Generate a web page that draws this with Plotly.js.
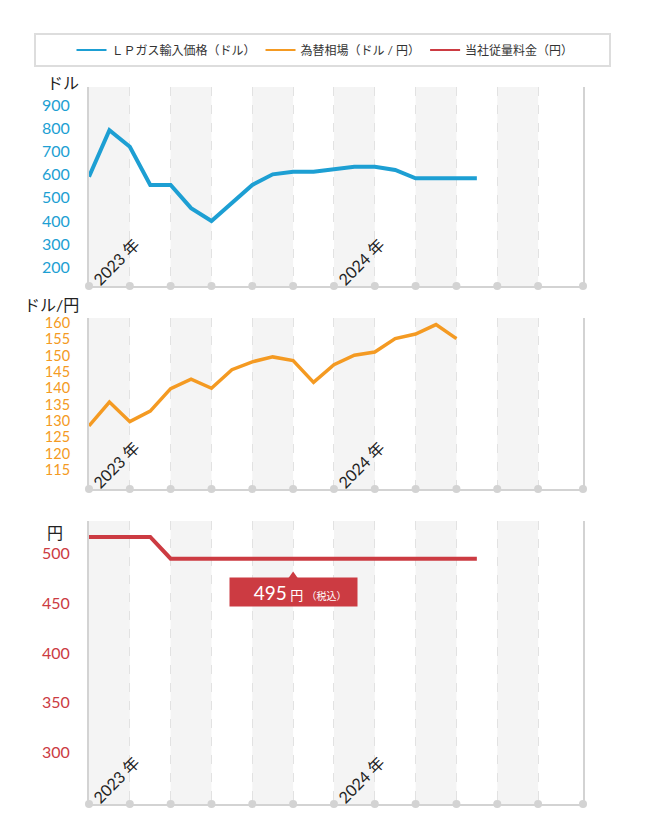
<!DOCTYPE html>
<html>
<head>
<meta charset="utf-8">
<script src="https://cdn.plot.ly/plotly-3.0.1.min.js"></script>
<style>
  body { margin: 0; background: #fff; }
</style>
</head>
<body>
<div id="chart" style="width:650px;height:830px"></div>
<script>
// monthly data, Jan 2023 -> Aug 2024
let months = ['2023/01', '2023/02', '2023/03', '2023/04', '2023/05', '2023/06', '2023/07', '2023/08', '2023/09', '2023/10',
  '2023/11', '2023/12', '2024/01', '2024/02', '2024/03', '2024/04', '2024/05', '2024/06', '2024/07', '2024/08']
let lpgPrice = [591, 792, 720, 555, 555, 455, 400, 476, 555, 601, 612, 612, 624, 634, 634, 620, 584, 584, 584, 584]
let usdJpy = [128.5, 135.8, 129.8, 133.0, 139.9, 142.8, 140.0, 145.7, 148.1, 149.6, 148.5, 141.8, 147.2, 150.1, 151.1, 155.2, 156.6, 159.5, 155.2]
let unitFee = [517, 517, 517, 517, 495, 495, 495, 495, 495, 495, 495, 495, 495, 495, 495, 495, 495, 495, 495, 495]

let lpgTicks = [200, 300, 400, 500, 600, 700, 800, 900]
let fxTicks = [115, 120, 125, 130, 135, 140, 145, 150, 155, 160]
let feeTicks = [300, 350, 400, 450, 500]

let yearLabels = ['2023 年', '2024 年']
let yearStart = [0, 12]

let seriesNames = ['ＬＰガス輸入価格（ドル）', '為替相場（ドル / 円）', '当社従量料金（円）']

const W = 650
const H = 830
const BLUE = '#1d9fd3'
const ORANGE = '#f49a22'
const RED = '#cc3b42'
const GRAY = '#d3d3d3'
const FONT = 'Lato, "Noto Sans CJK JP", sans-serif'

const xMax = 24.2
const gridTicks = Array.from({length: 12}, (v, k) => k * 2)
const dotX = gridTicks.concat([xMax])
const bandStarts = [0, 4, 8, 12, 16, 20]

let panels = [
  {top: 87, bottom: 286, range: [119, 978], ticks: lpgTicks, color: BLUE, width: 4, tickSize: 16,
    values: lpgPrice, title: 'ドル', titleX: 45, titleY: 83},
  {top: 318, bottom: 489, range: [109.2, 161.5], ticks: fxTicks, color: ORANGE, width: 3.5, tickSize: 14.5,
    values: usdJpy, title: 'ドル/円', titleX: 22, titleY: 304},
  {top: 521, bottom: 804, range: [248, 533], ticks: feeTicks, color: RED, width: 4, tickSize: 16,
    values: unitFee, title: '円', titleX: 45, titleY: 532}
]

let traces = []
let shapes = []
let annotations = []
let layout = {
  width: W,
  height: H,
  margin: {l: 0, r: 0, t: 0, b: 0},
  paper_bgcolor: '#fff',
  plot_bgcolor: '#fff',
  font: {family: FONT, color: '#222'},
  showlegend: true,
  legend: {
    orientation: 'h',
    x: 0.5, xanchor: 'center',
    y: 1 - 50 / H, yanchor: 'middle',
    font: {size: 12, color: '#333', family: FONT},
    bgcolor: 'rgba(0,0,0,0)'
  }
}

panels.forEach(function (p, i) {
  let n = i === 0 ? '' : String(i + 1)
  layout['xaxis' + n] = {
    domain: [89 / W, 583 / W],
    range: [0, xMax],
    anchor: 'y' + n,
    tickvals: gridTicks,
    showticklabels: false,
    ticks: '',
    showgrid: true,
    griddash: 'dash',
    gridcolor: '#e2e2e2',
    gridwidth: 1,
    showline: true,
    linecolor: GRAY,
    linewidth: 2,
    zeroline: false,
    fixedrange: true
  }
  layout['yaxis' + n] = {
    domain: [1 - p.bottom / H, 1 - p.top / H],
    range: p.range,
    anchor: 'x' + n,
    tickvals: p.ticks,
    ticks: 'outside',
    ticklen: 14,
    tickcolor: 'rgba(0,0,0,0)',
    tickfont: {size: p.tickSize, color: p.color, family: FONT},
    showgrid: false,
    showline: true,
    mirror: true,
    linecolor: GRAY,
    linewidth: 2,
    zeroline: false,
    fixedrange: true
  }

  // shaded bands every other 2-month block
  for (let b of bandStarts) {
    shapes.push({
      type: 'rect', layer: 'below',
      xref: 'x' + n, yref: 'y' + n + ' domain',
      x0: b, x1: b + 2, y0: 0, y1: 1,
      fillcolor: '#f4f4f4', line: {width: 0}
    })
  }

  traces.push({
    type: 'scatter', mode: 'lines',
    x: p.values.map((v, k) => k), y: p.values,
    customdata: months.slice(0, p.values.length),
    hovertemplate: '%{customdata}: %{y}<extra></extra>',
    xaxis: 'x' + n, yaxis: 'y' + n,
    line: {color: p.color, width: p.width},
    showlegend: false
  })
  traces.push({
    type: 'scatter', mode: 'markers',
    x: dotX, y: dotX.map(() => p.range[0]),
    xaxis: 'x' + n, yaxis: 'y' + n,
    marker: {color: GRAY, size: 8},
    cliponaxis: false, hoverinfo: 'skip',
    showlegend: false
  })

  yearLabels.forEach(function (label, k) {
    annotations.push({
      xref: 'x' + n, yref: 'y' + n + ' domain',
      x: yearStart[k] + 1.32, y: 0, yshift: 25,
      text: label, textangle: -45, showarrow: false,
      xanchor: 'center', yanchor: 'middle',
      font: {size: 16, color: '#222', family: FONT}
    })
  })

  annotations.push({
    xref: 'paper', yref: 'paper',
    x: p.titleX / W, y: 1 - p.titleY / H,
    xanchor: 'left', yanchor: 'middle',
    text: p.title, showarrow: false,
    font: {size: 16, color: '#222', family: FONT}
  })
})

// legend-only entries with thin lines
let legendColors = [BLUE, ORANGE, RED]
seriesNames.forEach(function (name, k) {
  traces.push({
    type: 'scatter', mode: 'lines',
    x: [null], y: [null],
    name: name,
    line: {color: legendColors[k], width: 2},
    hoverinfo: 'skip'
  })
})

// legend frame
shapes.push({
  type: 'rect', xref: 'paper', yref: 'paper',
  x0: 35 / W, x1: 610 / W, y0: 1 - 66 / H, y1: 1 - 34 / H,
  line: {color: '#dddddd', width: 2}, fillcolor: 'rgba(0,0,0,0)'
})

// current fee callout
let feeNow = unitFee[unitFee.length - 1]
let calloutX = 10
let calloutY = 461
let fee = panels[2]
let ypp = (fee.range[1] - fee.range[0]) / (fee.bottom - fee.top)
let xpp = xMax / (583 - 89)
annotations.push({
  xref: 'x3', yref: 'y3',
  x: calloutX, y: calloutY,
  text: '\u00a0\u00a0\u00a0\u00a0<span style="font-size:19px">' + feeNow + '</span> 円 <span style="font-size:10px">（税込）</span>',
  showarrow: false,
  bgcolor: RED, borderpad: 0,
  width: 127, height: 28,
  font: {size: 13, color: '#fff', family: FONT}
})
shapes.push({
  type: 'path', xref: 'x3', yref: 'y3',
  path: 'M' + (calloutX - 5 * xpp) + ',' + (calloutY + 14 * ypp) +
    ' L' + (calloutX + 5 * xpp) + ',' + (calloutY + 14 * ypp) +
    ' L' + calloutX + ',' + (calloutY + 21 * ypp) + ' Z',
  fillcolor: RED, line: {width: 0}
})

layout.shapes = shapes
layout.annotations = annotations

Plotly.newPlot('chart', traces, layout, {displayModeBar: false})
</script>
</body>
</html>
